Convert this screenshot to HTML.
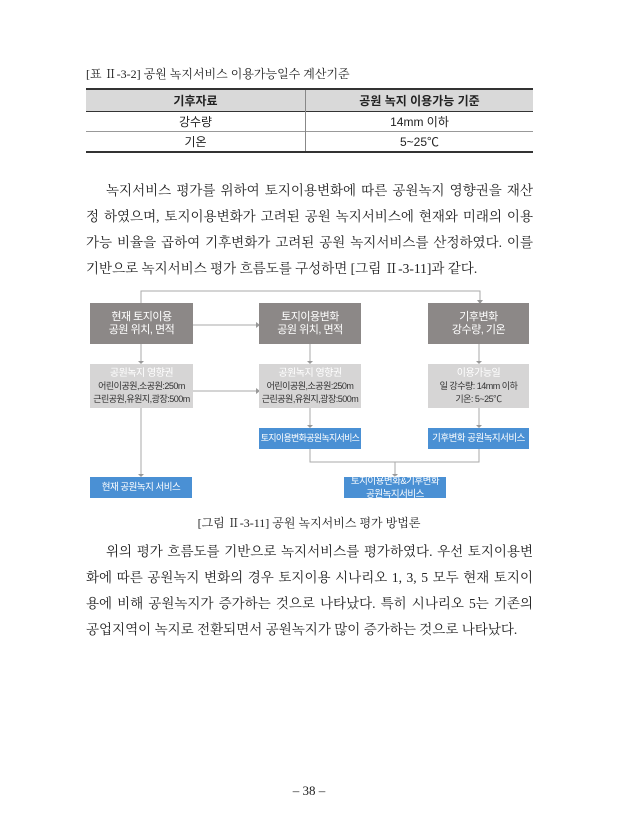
<!DOCTYPE html>
<html><head><meta charset="utf-8"><style>
body{margin:0;width:618px;height:840px;background:#fff;position:relative;font-family:"Liberation Serif","Noto Serif CJK KR","Noto Serif CJK SC",serif;color:#222}
.a{position:absolute}
.ln{position:absolute;left:86px;width:447px;font-size:13.5px;text-align:justify;text-align-last:justify;white-space:nowrap;line-height:16px}
table{position:absolute;left:86px;top:88px;width:447px;border-collapse:collapse;font-family:"Liberation Sans","Noto Sans CJK KR",sans-serif;font-size:12px}
td{text-align:center;height:19px;padding:0}
.bx{position:absolute;display:flex;flex-direction:column;align-items:center;justify-content:center;font-family:"Liberation Sans","Noto Sans CJK KR",sans-serif;text-align:center;line-height:13px;letter-spacing:-0.5px;white-space:nowrap}
.d{background:#8c8887;color:#fff;font-size:11px}
.l{background:#d6d5d5;color:#fff;font-size:10px}
.l span{color:#333;font-size:9px}
.b{background:#4a90d4;color:#fff;font-size:9.5px}
</style></head><body>
<div class="a" style="left:86px;top:65px;font-size:12px">[표 Ⅱ-3-2] 공원 녹지서비스 이용가능일수 계산기준</div>
<table>
<tr style="background:#d9d9d9;border-top:2px solid #333;border-bottom:1px solid #333"><td style="font-weight:bold;border-right:1px solid #888;width:219px;height:21px">기후자료</td><td style="font-weight:bold">공원 녹지 이용가능 기준</td></tr>
<tr style="border-bottom:1px solid #999"><td style="border-right:1px solid #888">강수량</td><td>14mm 이하</td></tr>
<tr style="border-bottom:2px solid #333"><td style="border-right:1px solid #888">기온</td><td>5~25℃</td></tr>
</table>
<div class="ln" style="top:183px;padding-left:20px;width:427px">녹지서비스 평가를 위하여 토지이용변화에 따른 공원녹지 영향권을 재산</div>
<div class="ln" style="top:209px">정 하였으며, 토지이용변화가 고려된 공원 녹지서비스에 현재와 미래의 이용</div>
<div class="ln" style="top:235px">가능 비율을 곱하여 기후변화가 고려된 공원 녹지서비스를 산정하였다. 이를</div>
<div class="ln" style="top:261px;text-align-last:left">기반으로 녹지서비스 평가 흐름도를 구성하면 [그림 Ⅱ-3-11]과 같다.</div>

<svg class="a" style="left:0;top:0" width="618" height="840">
<g stroke="#aaa" stroke-width="1" fill="none">
<polyline points="141,303 141,291 480,291 480,301"/>
<line x1="193" y1="325" x2="257" y2="325"/>
<line x1="193" y1="391" x2="257" y2="391"/>
<line x1="141" y1="344" x2="141" y2="362"/>
<line x1="310" y1="344" x2="310" y2="362"/>
<line x1="479" y1="344" x2="479" y2="362"/>
<line x1="310" y1="408" x2="310" y2="426"/>
<line x1="479" y1="408" x2="479" y2="426"/>
<line x1="141" y1="408" x2="141" y2="475"/>
<polyline points="310,449 310,462 479,462 479,449"/>
<line x1="395" y1="462" x2="395" y2="475"/>
</g>
<g fill="#999">
<path d="M477,300 L483,300 L480,304Z"/><path d="M256,322 L260,325 L256,328Z"/><path d="M256,388 L260,391 L256,394Z"/>
<path d="M138,361 L144,361 L141,364Z"/><path d="M307,361 L313,361 L310,364Z"/><path d="M476,361 L482,361 L479,364Z"/>
<path d="M307,425 L313,425 L310,428Z"/><path d="M476,425 L482,425 L479,428Z"/>
<path d="M138,474 L144,474 L141,477Z"/><path d="M392,474 L398,474 L395,477Z"/>
</g></svg>
<div class="bx d" style="left:90px;top:303px;width:103px;height:41px">현재 토지이용<br>공원 위치, 면적</div>
<div class="bx d" style="left:259px;top:303px;width:102px;height:41px">토지이용변화<br>공원 위치, 면적</div>
<div class="bx d" style="left:428px;top:303px;width:101px;height:41px">기후변화<br>강수량, 기온</div>
<div class="bx l" style="left:90px;top:364px;width:103px;height:44px">공원녹지 영향권<span>어린이공원,소공원:250m<br>근린공원,유원지,광장:500m</span></div>
<div class="bx l" style="left:259px;top:364px;width:102px;height:44px">공원녹지 영향권<span>어린이공원,소공원:250m<br>근린공원,유원지,광장:500m</span></div>
<div class="bx l" style="left:428px;top:364px;width:101px;height:44px">이용가능일<span>일 강수량: 14mm 이하<br>기온: 5~25℃</span></div>
<div class="bx b" style="left:259px;top:428px;width:102px;height:21px;font-size:9px;letter-spacing:-0.7px">토지이용변화공원녹지서비스</div>
<div class="bx b" style="left:428px;top:428px;width:101px;height:21px">기후변화 공원녹지서비스</div>
<div class="bx b" style="left:90px;top:477px;width:102px;height:21px">현재 공원녹지 서비스</div>
<div class="bx b" style="left:344px;top:477px;width:102px;height:21px">토지이용변화&amp;기후변화<br>공원녹지서비스</div>
<div class="a" style="left:0;width:618px;top:514px;text-align:center;font-size:12px">[그림 Ⅱ-3-11] 공원 녹지서비스 평가 방법론</div>

<div class="ln" style="top:544px;padding-left:20px;width:427px">위의 평가 흐름도를 기반으로 녹지서비스를 평가하였다. 우선 토지이용변</div>
<div class="ln" style="top:570px">화에 따른 공원녹지 변화의 경우 토지이용 시나리오 1, 3, 5 모두 현재 토지이</div>
<div class="ln" style="top:596px">용에 비해 공원녹지가 증가하는 것으로 나타났다. 특히 시나리오 5는 기존의</div>
<div class="ln" style="top:622px;text-align-last:left">공업지역이 녹지로 전환되면서 공원녹지가 많이 증가하는 것으로 나타났다.</div>
<div class="a" style="left:0;width:618px;top:783px;text-align:center;font-size:13px">– 38 –</div>
</body></html>
